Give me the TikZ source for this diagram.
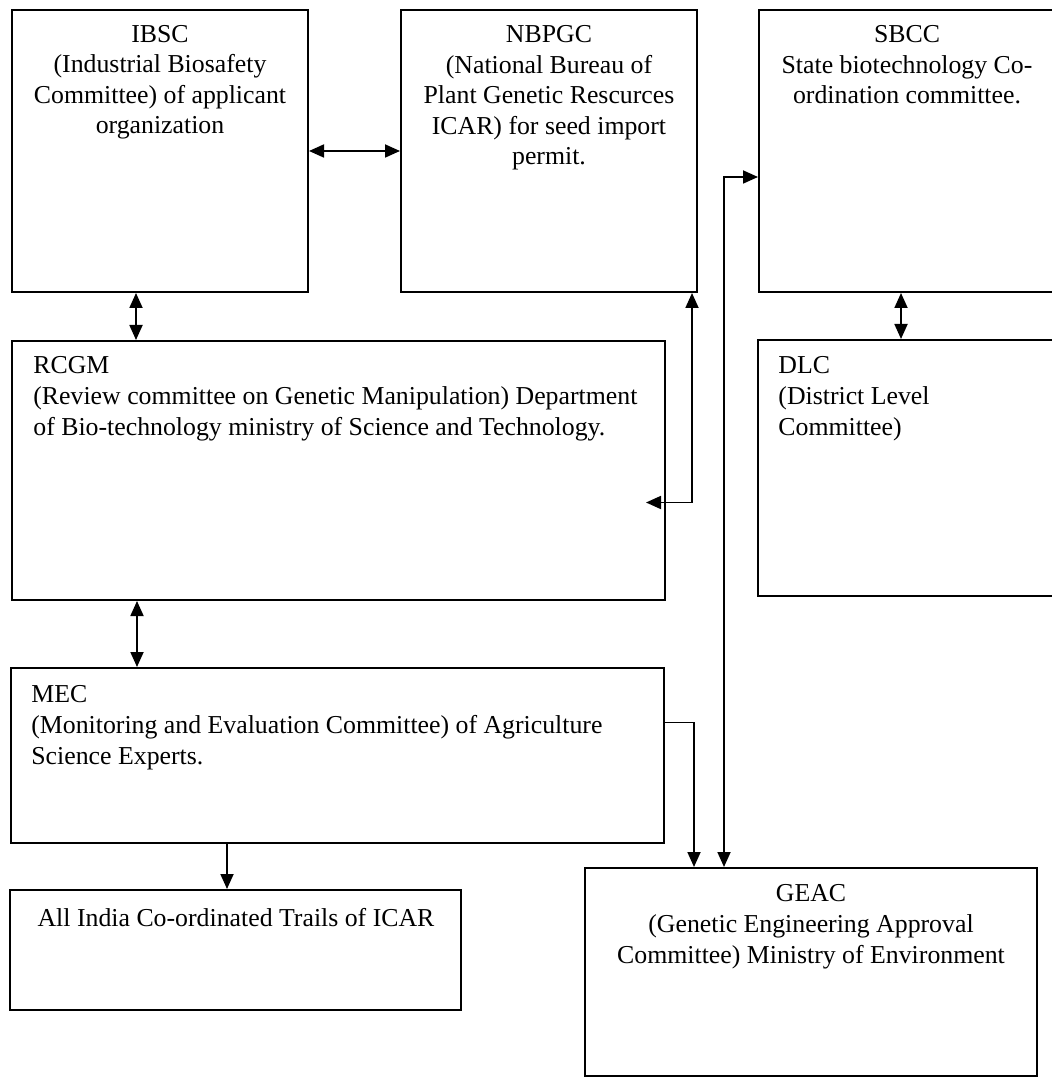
\documentclass[tikz,border=0pt]{standalone}
\usepackage{fontspec}
\setmainfont{Liberation Serif}
\usetikzlibrary{arrows.meta,fit}
\begin{document}
\begin{tikzpicture}[x=0.5pt,y=-0.5pt,
  box/.style={draw, line width=1pt, inner sep=0pt, rectangle},
  txt/.style={font=\fontsize{12.9}{15.3}\selectfont, inner sep=0pt},
  conn/.style={line width=0.9pt, -{Triangle[length=7.5pt,width=6.5pt]}},
  dconn/.style={line width=0.9pt, {Triangle[length=7.5pt,width=6.5pt]}-{Triangle[length=7.5pt,width=6.5pt]}}]
\useasboundingbox (0,0) rectangle (1051,1080);
\fill[white] (0,0) rectangle (1051,1080);
% boxes
\node[box, fit={(12,10) (308,292)}] (ibsc) {};
\node[box, fit={(401,10) (697,292)}] (nbpgc) {};
\node[box, fit={(759,10) (1058,292)}] (sbcc) {};
\node[box, fit={(12,341) (665,600)}] (rcgm) {};
\node[box, fit={(758,340) (1060,596)}] (dlc) {};
\node[box, fit={(11,668) (664,843)}] (mec) {};
\node[box, fit={(10,890) (461,1010)}] (allindia) {};
\node[box, fit={(585,868) (1037,1076)}] (geac) {};
% texts (anchor = baseline of the last line)
\node[txt, anchor=base, align=center] (tibsc) at (160,134) {IBSC\\(Industrial Biosafety\\Committee) of applicant\\organization};
\node[txt, anchor=base, align=center] (tnbpgc) at (549,165) {NBPGC\\(National Bureau of\\Plant Genetic Rescurces\\ICAR) for seed import\\permit.};
\node[txt, anchor=base, align=center] (tsbcc) at (907,104) {SBCC\\State biotechnology Co-\\ordination committee.};
\node[txt, anchor=base west, align=left] (trcgm) at (33,435) {RCGM\\(Review committee on Genetic Manipulation) Department\\of Bio-technology ministry of Science and Technology.};
\node[txt, anchor=base west, align=left] (tdlc) at (778,435) {DLC\\(District Level\\Committee)};
\node[txt, anchor=base west, align=left] (tmec) at (31,764) {MEC\\(Monitoring and Evaluation Committee) of Agriculture\\Science Experts.};
\node[txt, anchor=base, align=center] (tall) at (236,926) {All India Co-ordinated Trails of ICAR};
\node[txt, anchor=base, align=center] (tgeac) at (811,963) {GEAC\\(Genetic Engineering Approval\\Committee) Ministry of Environment};
% connectors
\draw[dconn] (ibsc.east) -- (ibsc.east -| nbpgc.west);
\draw[dconn] ([xshift=62.5pt]ibsc.south west) -- ([xshift=62.5pt]ibsc.south west |- rcgm.north);
\draw[dconn] ([xshift=63pt]rcgm.south west) -- ([xshift=63pt]rcgm.south west |- mec.north);
\draw[conn] ([xshift=108.5pt]mec.south west) -- ([xshift=108.5pt]mec.south west |- allindia.north);
\draw[dconn] ([xshift=71.5pt]sbcc.south west) -- ([xshift=71.5pt]sbcc.south west |- dlc.north);
\draw[dconn] ([xshift=-3pt]nbpgc.south east) |- ([xshift=-10pt,yshift=-16pt]rcgm.east);
\draw[conn] ([yshift=16.5pt]mec.east) -| ([xshift=55pt]geac.north west);
\draw[dconn] ([xshift=70pt]geac.north west) |- ([yshift=-13pt]sbcc.west);
\end{tikzpicture}
\end{document}
